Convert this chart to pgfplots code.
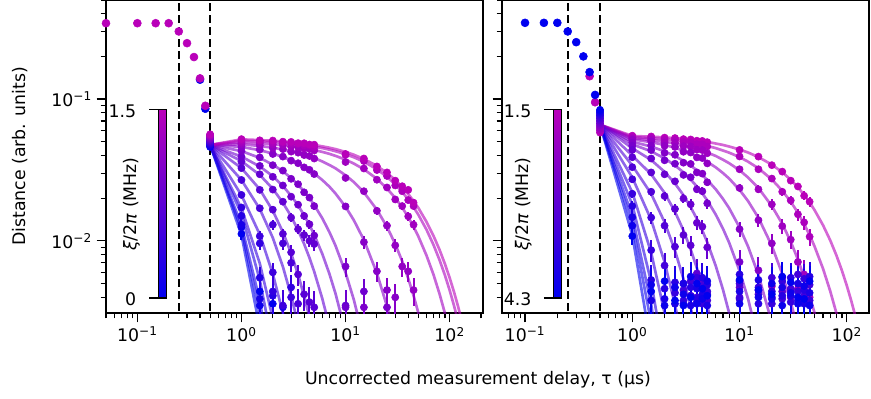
\documentclass[border=0pt]{standalone}
\usepackage{fontspec}
\setmainfont{DejaVu Sans}
\usepackage{pgfplots}
\pgfplotsset{compat=1.18}
\definecolor{cb}{RGB}{0,0,240}
\definecolor{cm}{RGB}{185,0,185}
\colorlet{L0}{cm!0!cb}\colorlet{L1}{cm!7!cb}\colorlet{L2}{cm!13!cb}\colorlet{L3}{cm!20!cb}
\colorlet{L4}{cm!27!cb}\colorlet{L5}{cm!33!cb}\colorlet{L6}{cm!40!cb}\colorlet{L7}{cm!47!cb}
\colorlet{L8}{cm!53!cb}\colorlet{L9}{cm!60!cb}\colorlet{L10}{cm!67!cb}\colorlet{L11}{cm!73!cb}
\colorlet{L12}{cm!80!cb}\colorlet{L13}{cm!87!cb}\colorlet{L14}{cm!93!cb}\colorlet{L15}{cm!100!cb}
\colorlet{R0}{cm!100!cb}\colorlet{R1}{cm!93!cb}\colorlet{R2}{cm!86!cb}\colorlet{R3}{cm!79!cb}
\colorlet{R4}{cm!71!cb}\colorlet{R5}{cm!64!cb}\colorlet{R6}{cm!57!cb}\colorlet{R7}{cm!50!cb}
\colorlet{R8}{cm!43!cb}\colorlet{R9}{cm!36!cb}\colorlet{R10}{cm!29!cb}\colorlet{R11}{cm!21!cb}
\colorlet{R12}{cm!14!cb}\colorlet{R13}{cm!7!cb}\colorlet{R14}{cm!0!cb}
\newcommand{\fitline}[2]{\addplot[line width=2pt, opacity=0.6, color=#1, line join=round] coordinates {#2};}
\newcommand{\datL}[2]{\addplot[only marks, mark=*, mark size=2.7pt, color=#1,
  error bars/.cd, y dir=both, y fixed=0.001, error mark=none, error bar style={line width=1.5pt}] coordinates {#2};}
\newcommand{\datR}[2]{\addplot[only marks, mark=*, mark size=2.7pt, color=#1,
  error bars/.cd, y dir=both, y fixed=0.0015, error mark=none, error bar style={line width=1.5pt}] coordinates {#2};}
\newcommand{\fs}{\fontsize{13}{15.6}\selectfont}
\pgfplotsset{
  mypanel/.style={
    scale only axis,
    height=234.75pt, ymin=0.0031, ymax=0.5,
    font=\fs,
    ticklabel style={font=\fs},
    axis line style={line width=1.1pt},
    tick align=outside, tick pos=left,
    major tick length=7pt, minor tick length=4pt,
    every tick/.style={black, line width=0.9pt},
    xtick={0.1,1,10,100},
    xticklabels={10\textsuperscript{−1},10\textsuperscript{0},10\textsuperscript{1},10\textsuperscript{2}},
    minor xtick={0.05,0.06,0.07,0.08,0.09,0.2,0.3,0.4,0.5,0.6,0.7,0.8,0.9,2,3,4,5,6,7,8,9,20,30,40,50,60,70,80,90,200},
    ytick={0.01,0.1},
    minor ytick={0.004,0.005,0.006,0.007,0.008,0.009,0.02,0.03,0.04,0.05,0.06,0.07,0.08,0.09,0.2,0.3,0.4,0.5},
  },
  dashv/.style={black, line width=1.7pt, dash pattern=on 6pt off 3pt},
}
\begin{document}
\begin{tikzpicture}
\useasboundingbox (-79.5pt,-64.5pt) rectangle (573.75pt,234.75pt);
% ---------------- left panel ----------------
\begin{axis}[xmode=log, ymode=log, mypanel, at={(0,0)}, anchor=south west, width=282.75pt, xmin=0.05, xmax=209,
  yticklabels={10\textsuperscript{−2},10\textsuperscript{−1}}]
\addplot[dashv] coordinates {(0.25,0.001) (0.25,1)};
\addplot[dashv] coordinates {(0.5,0.001) (0.5,1)};
\addplot[only marks, mark=*, mark size=3pt, color=cb] coordinates {(0.4,0.137) (0.45,0.0855)};
\fitline{L0}{(0.5,.0475)(1,.011)(1.5,.00244)}
\datL{L0}{(0.5,0.0460)(1,0.0112)(1.5,0.0044)(2,0.0036)}
\fitline{L1}{(0.5,.0475)(1,.012)(1.5,.00311)(2,.0008)}
\datL{L1}{(0.5,0.0467)(1,0.0125)(1.5,0.0035)}
\fitline{L2}{(0.5,.0475)(1,.013)(1.5,.00378)(2,.0011)}
\datL{L2}{(0.5,0.0474)(1,0.0130)(1.5,0.0039)(2.5,0.0034)}
\fitline{L3}{(0.5,.0475)(1,.0155)(1.5,.0053)(2,.00181)}
\datL{L3}{(0.5,0.0481)(1,0.0150)(1.5,0.0055)(2,0.0041)}
\fitline{L4}{(0.5,.0475)(1,.017)(1.5,.00694)(2,.00283)(2.5,.00116)}
\datL{L4}{(0.5,0.0488)(1,0.0172)(1.5,0.0096)(2,0.0044)(3,0.0047)}
\fitline{L5}{(0.5,.0475)(1,.021)(1.5,.0111)(2,.00586)(2.5,.0031)(3,.00164)}
\datL{L5}{(0.5,0.0495)(1,0.0211)(1.5,0.0108)(2,0.0060)(2.5,0.0035)(3,0.0040)}
\fitline{L6}{(0.5,.0475)(1,.0269)(1.5,.0168)(2,.01052)(2.5,.00658)(3,.00411)(3.5,.00257)}
\datL{L6}{(0.5,0.0502)(1,0.0269)(1.5,0.0170)(2,0.0130)(2.5,0.0096)(3,0.0070)(3.5,0.0036)}
\fitline{L7}{(0.5,.0475)(1,.0326)(1.5,.0231)(2,.0163)(2.5,.01155)(3,.00817)(3.5,.00578)(4,.00409)(4.5,.00289)(5,.00205)}
\datL{L7}{(0.5,0.0509)(1,0.0326)(1.5,0.0229)(2,0.0166)(2.5,0.0112)(3,0.0083)(3.5,0.0058)(4,0.0042)(4.5,0.0037)(5,0.0034)}
\fitline{L8}{(0.5,.0475)(1,.0365)(1.5,.0292)(2,.0233)(2.5,.0186)(3,.0149)(3.5,.0119)(4,.00951)(4.5,.0076)(5,.00607)(6,.00388)(7,.00248)}
\datL{L8}{(0.5,0.0516)(1,0.0362)(1.5,0.0295)(2,0.0230)(2.5,0.0189)(3,0.0146)(3.5,0.0121)(4,0.0110)(4.5,0.0100)(5,0.0095)(10,0.0035)}
\fitline{L9}{(0.5,.0475)(1,.0393)(1.5,.0335)(2,.0286)(2.5,.0244)(3,.0208)(3.5,.0178)(4,.01517)(4.5,.01294)(5,.01104)(6,.00804)(7,.00585)(8,.00426)(10,.00226)}
\datL{L9}{(0.5,0.0523)(1,0.0393)(1.5,0.0338)(2,0.0283)(2.5,0.0246)(3,0.0205)(3.5,0.0180)(4,0.0150)(4.5,0.0131)(5,0.0109)(10,0.0034)(15,0.0044)}
\fitline{L10}{(0.5,.0475)(1,.043)(1.5,.0385)(2,.0345)(2.5,.031)(3,.0277)(3.5,.0249)(4,.0223)(4.5,.02)(5,.0179)(6,.01437)(7,.01153)(8,.00927)(10,.00597)(12,.00385)(15,.002)}
\datL{L10}{(0.5,0.0530)(1,0.0430)(1.5,0.0388)(2,0.0342)(2.5,0.0313)(3,0.0274)(3.5,0.0251)(4,0.0220)(4.5,0.0202)(5,0.0176)(10,0.0066)(15,0.0034)(25,0.0034)}
\fitline{L11}{(0.5,.0475)(1,.046)(1.5,.0436)(2,.0413)(2.5,.0391)(3,.0371)(3.5,.0351)(4,.0333)(4.5,.0315)(5,.0299)(6,.0268)(7,.0241)(8,.0216)(10,.0174)(12,.014)(15,.01016)(20,.00592)(25,.00346)(30,.00202)}
\datL{L11}{(0.5,0.0537)(1,0.0460)(1.5,0.0440)(2,0.0410)(2.5,0.0393)(3,0.0368)(3.5,0.0353)(4,0.0330)(4.5,0.0317)(5,0.0296)(10,0.0175)(15,0.0098)(20,0.0061)(25,0.0045)(30,0.0040)}
\fitline{L12}{(0.5,.0475)(1,.048)(1.5,.0467)(2,.0454)(2.5,.0441)(3,.0429)(3.5,.0417)(4,.0406)(4.5,.0395)(5,.0384)(6,.0363)(7,.0343)(8,.0325)(10,.029)(12,.026)(15,.022)(20,.0166)(25,.01256)(30,.0095)(35,.00719)(40,.00543)(45,.00411)(50,.00311)(60,.00178)}
\datL{L12}{(0.5,0.0544)(1,0.0480)(1.5,0.0470)(2,0.0452)(2.5,0.0444)(3,0.0426)(3.5,0.0419)(4,0.0403)(4.5,0.0397)(5,0.0381)(10,0.0278)(15,0.0224)(20,0.0163)(25,0.0128)(30,0.0093)(35,0.0066)(40,0.0061)(45,0.0045)}
\fitline{L13}{(0.5,.0475)(1,.0495)(1.5,.0487)(2,.048)(2.5,.0472)(3,.0465)(3.5,.0458)(4,.0451)(4.5,.0444)(5,.0437)(6,.0424)(7,.0411)(8,.0398)(10,.0374)(12,.0351)(15,.032)(20,.0274)(25,.0234)(30,.0201)(35,.0172)(40,.0147)(45,.01257)(50,.01076)(60,.00787)(70,.00577)(80,.00422)(90,.00309)(100,.00227)}
\datL{L13}{(0.5,0.0551)(1,0.0493)(1.5,0.0489)(2,0.0478)(2.5,0.0474)(3,0.0462)(3.5,0.0459)(4,0.0448)(4.5,0.0446)(5,0.0434)(10,0.0360)(15,0.0324)(20,0.0270)(25,0.0238)(30,0.0196)(35,0.0176)(40,0.0149)(45,0.0130)}
\fitline{L14}{(0.5,.0475)(1,.051)(1.5,.0504)(2,.0498)(2.5,.0492)(3,.0486)(3.5,.048)(4,.0474)(4.5,.0468)(5,.0462)(6,.0451)(7,.044)(8,.0429)(10,.0409)(12,.0389)(15,.0362)(20,.032)(25,.0283)(30,.025)(35,.0221)(40,.0196)(45,.0173)(50,.0153)(60,.01197)(70,.00936)(80,.00732)(90,.00573)(100,.00448)(110,.0035)(120,.00274)}
\datL{L14}{(0.5,0.0558)(1,0.0508)(1.5,0.0506)(2,0.0495)(2.5,0.0494)(3,0.0483)(3.5,0.0482)(4,0.0471)(4.5,0.0470)(5,0.0458)(10,0.0405)(15,0.0366)(20,0.0316)(25,0.0287)(30,0.0246)(35,0.0224)(40,0.0194)(45,0.0176)}
\fitline{L15}{(0.5,.0475)(1,.052)(1.5,.0514)(2,.0508)(2.5,.0503)(3,.0497)(3.5,.0491)(4,.0486)(4.5,.048)(5,.0475)(6,.0464)(7,.0454)(8,.0444)(10,.0424)(12,.0405)(15,.0378)(20,.0338)(25,.0301)(30,.0269)(35,.024)(40,.0214)(45,.0191)(50,.0171)(60,.0136)(70,.01084)(80,.00864)(90,.00688)(100,.00548)(110,.00437)(120,.00348)(130,.00277)}
\datL{L15}{(0.5,0.0565)(1,0.0522)(1.5,0.0512)(2,0.0510)(2.5,0.0501)(3,0.0499)(3.5,0.0489)(4,0.0488)(4.5,0.0478)(5,0.0477)(10,0.0410)(15,0.0381)(20,0.0335)(25,0.0304)(30,0.0266)(35,0.0243)(40,0.0229)(45,0.0186)}
\addplot[only marks, mark=*, mark size=3pt, color=cm] coordinates {(0.05,0.343) (0.1,0.343) (0.15,0.343) (0.2,0.343) (0.25,0.300) (0.3,0.248) (0.35,0.198) (0.4,0.140) (0.45,0.0897)};
% colour bar
\shade[bottom color=cb, top color=cm] (rel axis cs:0.139,0.048) rectangle (rel axis cs:0.161,0.649);
\draw[line width=0.8pt] (rel axis cs:0.139,0.048) rectangle (rel axis cs:0.161,0.649);
\draw[line width=0.8pt] (rel axis cs:0.115,0.649) -- (rel axis cs:0.139,0.649);
\draw[line width=0.8pt] (rel axis cs:0.115,0.048) -- (rel axis cs:0.139,0.048);
\node[anchor=east, inner sep=0pt] at (rel axis cs:0.081,0.645) {1.5};
\node[anchor=east, inner sep=0pt] at (rel axis cs:0.081,0.044) {0};
\node[rotate=90] at (rel axis cs:0.068,0.348) {\textit{ξ}/2\textit{π} (MHz)};
\end{axis}
% ---------------- right panel ----------------
\begin{axis}[xmode=log, ymode=log, mypanel, at={(297pt,0)}, anchor=south west, width=275.25pt, xmin=0.061, xmax=161,
  yticklabels={}]
\addplot[dashv] coordinates {(0.25,0.001) (0.25,1)};
\addplot[dashv] coordinates {(0.5,0.001) (0.5,1)};
\addplot[only marks, mark=*, mark size=3pt, color=cm] coordinates {(0.4,0.145) (0.45,0.095)};
\fitline{R0}{(0.5,.066)(1,.055)(1.5,.0543)(2,.0537)(2.5,.053)(3,.0524)(3.5,.0517)(4,.0511)(4.5,.0505)(5,.0499)(6,.0486)(7,.0475)(8,.0463)(10,.0441)(12,.042)(15,.039)(20,.0345)(25,.0305)(30,.027)(35,.0239)(40,.0211)(45,.0187)(50,.0165)(60,.0129)(70,.0101)(80,.0079)(90,.00618)(100,.00483)(110,.00378)(120,.00295)(130,.0023)}
\datR{R0}{(0.5,0.0580)(1,0.0552)(1.5,0.0545)(2,0.0535)(2.5,0.0531)(3,0.0522)(3.5,0.0519)(4,0.0509)(4.5,0.0507)(5,0.0497)(10,0.0438)(15,0.0393)(20,0.0342)(25,0.0308)(30,0.0266)(35,0.0242)(40,0.0208)(45,0.0189)}
\fitline{R1}{(0.5,.066)(1,.054)(1.5,.053)(2,.0521)(2.5,.0511)(3,.0502)(3.5,.0493)(4,.0484)(4.5,.0476)(5,.0467)(6,.0451)(7,.0434)(8,.0419)(10,.039)(12,.0362)(15,.0325)(20,.0271)(25,.0226)(30,.0189)(35,.0158)(40,.0131)(45,.011)(50,.00915)(60,.00637)(70,.00443)(80,.00309)(90,.00215)}
\datR{R1}{(0.5,0.0599)(1,0.0538)(1.5,0.0533)(2,0.0517)(2.5,0.0514)(3,0.0498)(3.5,0.0496)(4,0.0480)(4.5,0.0479)(5,0.0463)(10,0.0394)(15,0.0320)(20,0.0275)(25,0.0222)(30,0.0193)(35,0.0154)(40,0.0135)(45,0.0107)}
\fitline{R2}{(0.5,.066)(1,.053)(1.5,.0515)(2,.05)(2.5,.0486)(3,.0472)(3.5,.0459)(4,.0445)(4.5,.0433)(5,.042)(6,.0397)(7,.0374)(8,.0353)(10,.0315)(12,.028)(15,.0236)(20,.0176)(25,.0132)(30,.00988)(35,.00739)(40,.00553)(45,.00414)(50,.0031)(60,.00174)}
\datR{R2}{(0.5,0.0617)(1,0.0526)(1.5,0.0519)(2,0.0494)(2.5,0.0490)(3,0.0466)(3.5,0.0463)(4,0.0440)(4.5,0.0437)(5,0.0415)(10,0.0320)(15,0.0231)(20,0.0181)(25,0.0127)(30,0.0102)(35,0.0071)(40,0.0058)(45,0.0040)}
\fitline{R3}{(0.5,.066)(1,.052)(1.5,.0497)(2,.0475)(2.5,.0454)(3,.0433)(3.5,.0414)(4,.0396)(4.5,.0378)(5,.0361)(6,.033)(7,.0301)(8,.0275)(10,.0229)(12,.0191)(15,.01455)(20,.00923)(25,.00585)(30,.00371)(35,.00236)}
\datR{R3}{(0.5,0.0636)(1,0.0515)(1.5,0.0503)(2,0.0468)(2.5,0.0460)(3,0.0425)(3.5,0.0420)(4,0.0388)(4.5,0.0384)(5,0.0352)(10,0.0236)(15,0.0140)(20,0.0096)(25,0.0055)(30,0.0040)(35,0.0046)}
\fitline{R4}{(0.5,.066)(1,.05)(1.5,.0463)(2,.0428)(2.5,.0397)(3,.0367)(3.5,.034)(4,.0315)(4.5,.0291)(5,.0269)(6,.0231)(7,.0198)(8,.017)(10,.01244)(12,.00913)(15,.00575)(20,.00265)}
\datR{R4}{(0.5,0.0655)(1,0.0492)(1.5,0.0470)(2,0.0418)(2.5,0.0405)(3,0.0356)(3.5,0.0349)(4,0.0304)(4.5,0.0298)(5,0.0259)(10,0.0121)(15,0.0062)(20,0.0048)}
\fitline{R5}{(0.5,.066)(1,.048)(1.5,.0428)(2,.0382)(2.5,.0341)(3,.0304)(3.5,.0271)(4,.0242)(4.5,.0216)(5,.0193)(6,.01533)(7,.0122)(8,.00971)(10,.00615)(12,.0039)(15,.00196)}
\datR{R5}{(0.5,0.0673)(1,0.0468)(1.5,0.0437)(2,0.0370)(2.5,0.0350)(3,0.0292)(3.5,0.0281)(4,0.0231)(4.5,0.0224)(5,0.0184)(10,0.0071)(15,0.0045)}
\fitline{R6}{(0.5,.066)(1,.045)(1.5,.0372)(2,.0307)(2.5,.0254)(3,.021)(3.5,.0173)(4,.0143)(4.5,.01182)(5,.00977)(6,.00666)(7,.00454)(8,.0031)(10,.00144)}
\datR{R6}{(0.5,0.0692)(1,0.0438)(1.5,0.0381)(2,0.0295)(2.5,0.0263)(3,0.0199)(3.5,0.0181)(4,0.0134)(4.5,0.0126)(5,0.0090)(10,0.0052)(20,0.0040)}
\fitline{R7}{(0.5,.066)(1,.04)(1.5,.0295)(2,.0218)(2.5,.01605)(3,.01184)(3.5,.00873)(4,.00644)(4.5,.00475)(5,.0035)(6,.00191)}
\datR{R7}{(0.5,0.0710)(1,0.0389)(1.5,0.0304)(2,0.0207)(2.5,0.0168)(3,0.0110)(3.5,0.0093)(4,0.0059)(4.5,0.0053)(5,0.0042)(10,0.0047)(25,0.0044)}
\fitline{R8}{(0.5,.066)(1,.034)(1.5,.02146)(2,.01354)(2.5,.00855)(3,.00539)(3.5,.0034)(4,.00215)}
\datR{R8}{(0.5,0.0729)(1,0.0331)(1.5,0.0222)(2,0.0128)(2.5,0.0091)(3,0.0050)(3.5,0.0041)(4,0.0037)(10,0.0040)(30,0.0045)}
\fitline{R9}{(0.5,.066)(1,.028)(1.5,.01407)(2,.00708)(2.5,.00356)(3,.00179)}
\datR{R9}{(0.5,0.0748)(1,0.0272)(1.5,0.0146)(2,0.0067)(3,0.0045)(3.5,0.0052)(4,0.0040)(4.5,0.0048)(5,0.0038)(10,0.0050)(15,0.0042)(20,0.0055)(25,0.0039)(30,0.0046)(35,0.0058)(40,0.0041)(45,0.0049)}
\fitline{R10}{(0.5,.066)(1,.022)(1.5,.00826)(2,.0031)(2.5,.00116)}
\datR{R10}{(0.5,0.0766)(1,0.0215)(1.5,0.0086)(2.5,0.0043)(3,0.0038)(3.5,0.0041)(4,0.0055)(4.5,0.0036)(5,0.0044)(10,0.0039)(15,0.0047)(20,0.0036)(25,0.0052)(30,0.0037)(35,0.0044)(40,0.0054)(45,0.0038)}
\fitline{R11}{(0.5,.066)(1,.018)(1.5,.00512)(2,.00146)}
\datR{R11}{(0.5,0.0785)(1,0.0176)(1.5,0.0053)(2,0.0046)(2.5,0.0051)(3,0.0036)(3.5,0.0047)(4,0.0039)(4.5,0.0055)(5,0.0049)(10,0.0058)(15,0.0036)(20,0.0044)(25,0.0041)(30,0.0055)(35,0.0038)(40,0.0045)(45,0.0056)}
\fitline{R12}{(0.5,.066)(1,.015)(1.5,.00358)(2,.00085)}
\datR{R12}{(0.5,0.0803)(1,0.0147)(1.5,0.0038)(2,0.0039)(2.5,0.0036)(3,0.0050)(3.5,0.0035)(4,0.0046)(4.5,0.0042)(5,0.0035)(10,0.0044)(15,0.0053)(20,0.0039)(25,0.0047)(30,0.0041)(35,0.0050)(40,0.0036)(45,0.0043)}
\fitline{R13}{(0.5,.066)(1,.013)(1.5,.00265)}
\datR{R13}{(0.5,0.0822)(1,0.0128)(1.5,0.0049)(2,0.0035)(2.5,0.0047)(3,0.0042)(3.5,0.0056)(4,0.0036)(4.5,0.0039)(5,0.0052)(10,0.0036)(15,0.0040)(20,0.0050)(25,0.0035)(30,0.0043)(35,0.0036)(40,0.0048)(45,0.0035)}
\fitline{R14}{(0.5,.066)(1,.011)(1.5,.0018)}
\datR{R14}{(0.5,0.0840)(1,0.0108)(1.5,0.0044)(2,0.0052)(2.5,0.0038)(3,0.0035)(3.5,0.0040)(4,0.0050)(4.5,0.0046)(5,0.0041)(10,0.0053)(15,0.0045)(20,0.0042)(25,0.0056)(30,0.0051)(35,0.0040)(40,0.0039)(45,0.0052)}
\addplot[only marks, mark=*, mark size=3pt, color=cb] coordinates {(0.1,0.345) (0.15,0.345) (0.2,0.345) (0.25,0.300) (0.3,0.252) (0.35,0.200) (0.4,0.155) (0.45,0.107)};
% colour bar
\shade[bottom color=cb, top color=cm] (rel axis cs:0.140,0.048) rectangle (rel axis cs:0.163,0.649);
\draw[line width=0.8pt] (rel axis cs:0.140,0.048) rectangle (rel axis cs:0.163,0.649);
\draw[line width=0.8pt] (rel axis cs:0.114,0.649) -- (rel axis cs:0.140,0.649);
\draw[line width=0.8pt] (rel axis cs:0.114,0.048) -- (rel axis cs:0.140,0.048);
\node[anchor=east, inner sep=0pt] at (rel axis cs:0.081,0.645) {1.5};
\node[anchor=east, inner sep=0pt] at (rel axis cs:0.081,0.044) {4.3};
\node[rotate=90] at (rel axis cs:0.058,0.348) {\textit{ξ}/2\textit{π} (MHz)};
\end{axis}
\node[rotate=90, font=\fs] at (-64.5pt,117.4pt) {Distance (arb. units)};
\node[font=\fs] at (279pt,-50pt) {Uncorrected measurement delay, τ (μs)};
\end{tikzpicture}
\end{document}
